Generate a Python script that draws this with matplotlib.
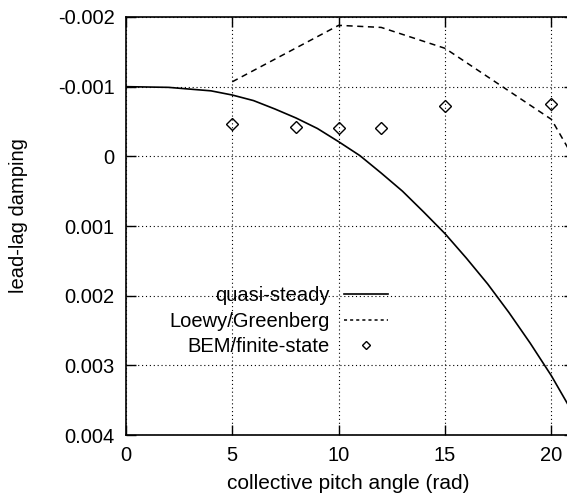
import matplotlib
matplotlib.use("Agg")
import matplotlib.pyplot as plt

plt.rcParams['font.family'] = ['Liberation Sans', 'DejaVu Sans']
plt.rcParams['axes.unicode_minus'] = False

# quasi-steady curve
qs_x = [0, 2, 4, 5, 6, 7, 8, 9, 10, 11, 12, 13, 14, 15, 16, 17, 18, 19, 20, 21]
qs_y = [-0.00100, -0.00099, -0.00094, -0.00088, -0.00080, -0.00068, -0.00055,
        -0.00040, -0.00021, -0.00001, 0.00024, 0.00050, 0.00080, 0.00111,
        0.00146, 0.00183, 0.00224, 0.00268, 0.00315, 0.00368]

# Loewy/Greenberg
lg_x = [5, 10, 12, 15, 20, 21]
lg_y = [-0.00107, -0.00188, -0.00185, -0.00155, -0.00053, 0.0]

# BEM/finite-state
bem_x = [5, 8, 10, 12, 15, 20]
bem_y = [-0.00046, -0.00042, -0.00040, -0.00040, -0.00072, -0.00075]

yticks = [-0.002, -0.001, 0, 0.001, 0.002, 0.003, 0.004]
ytick_labels = ["-0.002", "-0.001", "0", "0.001", "0.002", "0.003", "0.004"]
xticks = [0, 5, 10, 15, 20]

fig = plt.figure(figsize=(5.67, 4.99), dpi=100)
ax = fig.add_axes([0.222, 0.128, 0.79, 0.838])

ax.plot(qs_x, qs_y, color='black', linewidth=1.2, label='quasi-steady')
ax.plot(lg_x, lg_y, color='black', linewidth=1.1, linestyle=(0, (4, 3)),
        label='Loewy/Greenberg')
ax.plot(bem_x, bem_y, linestyle='none', marker='D', markersize=6,
        markerfacecolor='none', markeredgecolor='black', markeredgewidth=1.0,
        label='BEM/finite-state')

ax.set_xlim(0, 21.05)
ax.set_ylim(0.004, -0.002)
ax.set_xticks(xticks)
ax.set_yticks(yticks)
ax.set_yticklabels(ytick_labels)
ax.tick_params(direction='in', length=7, width=1, top=True, right=True,
               labelsize=14.5, pad=8)
ax.grid(True, color='black', linestyle=(0, (1, 2.5)), linewidth=0.8)
for s in ax.spines.values():
    s.set_linewidth(1.2)

ax.set_xlabel("collective pitch angle (rad)", fontsize=15)
ax.set_ylabel("lead-lag damping", fontsize=14.5)
ax.xaxis.set_label_coords(0.496, -0.094)
ax.yaxis.set_label_coords(-0.219, 0.526)

leg = ax.legend(loc='upper right', bbox_to_anchor=(388 / 567, 1 - 286 / 499),
                bbox_transform=fig.transFigure, frameon=False,
                markerfirst=False, fontsize=14.5, handlelength=2.2,
                handletextpad=0.7, labelspacing=0.33, numpoints=1,
                borderpad=0, borderaxespad=0)
for t in leg.get_texts():
    t.set_ha('right')
leg._legend_box.align = "right"
leg.legend_handles[1].set_linestyle((0, (2, 2)))
leg.legend_handles[2].set_markersize(4)

fig.savefig("out.png", dpi=100)
